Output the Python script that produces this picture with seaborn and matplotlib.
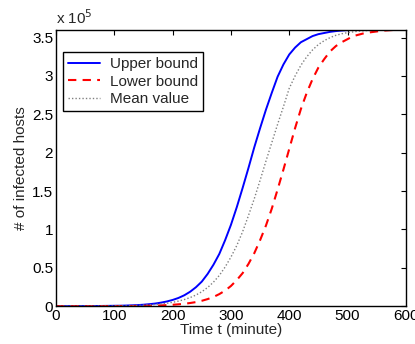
import matplotlib
matplotlib.use('Agg')
import matplotlib.pyplot as plt
import pandas as pd
import seaborn as sns

# Time axis (minutes) and infected host counts, in units of 1e5 hosts
time_min = list(range(0, 610, 10))

upper_bound = [
    0.000, 0.000, 0.000, 0.001, 0.001, 0.001, 0.001, 0.002, 0.003, 0.004,
    0.005, 0.006, 0.008, 0.011, 0.014, 0.019, 0.026, 0.034, 0.046, 0.061,
    0.081, 0.107, 0.142, 0.188, 0.247, 0.320, 0.420, 0.540, 0.680, 0.860,
    1.060, 1.290, 1.540, 1.800, 2.070, 2.320, 2.560, 2.780, 2.990, 3.150,
    3.280, 3.370, 3.440, 3.480, 3.520, 3.545, 3.560, 3.575, 3.585, 3.592,
    3.597, 3.600, 3.600, 3.600, 3.600, 3.600, 3.600, 3.600, 3.600, 3.600,
    3.600,
]

lower_bound = [
    0.000, 0.000, 0.000, 0.000, 0.000, 0.000, 0.000, 0.000, 0.000, 0.001,
    0.001, 0.001, 0.002, 0.002, 0.003, 0.0045, 0.006, 0.008, 0.010, 0.0135,
    0.018, 0.024, 0.031, 0.041, 0.053, 0.070, 0.092, 0.120, 0.157, 0.203,
    0.263, 0.340, 0.430, 0.550, 0.690, 0.860, 1.050, 1.270, 1.520, 1.780,
    2.050, 2.320, 2.570, 2.780, 2.960, 3.110, 3.220, 3.320, 3.390, 3.440,
    3.480, 3.520, 3.540, 3.560, 3.570, 3.580, 3.590, 3.595, 3.600, 3.600,
    3.600,
]

mean_value = [
    0.000, 0.000, 0.000, 0.000, 0.000, 0.000, 0.001, 0.001, 0.001, 0.002,
    0.003, 0.004, 0.005, 0.007, 0.010, 0.013, 0.017, 0.0225, 0.0295, 0.038,
    0.050, 0.066, 0.086, 0.112, 0.145, 0.188, 0.243, 0.313, 0.400, 0.510,
    0.640, 0.790, 0.970, 1.180, 1.400, 1.640, 1.890, 2.130, 2.370, 2.600,
    2.840, 3.000, 3.140, 3.250, 3.340, 3.410, 3.460, 3.500, 3.530, 3.550,
    3.565, 3.575, 3.585, 3.590, 3.595, 3.600, 3.600, 3.600, 3.600, 3.600,
    3.600,
]

x_ticks = [0, 100, 200, 300, 400, 500, 600]
y_ticks = [0, 0.5, 1, 1.5, 2, 2.5, 3, 3.5]
y_tick_labels = ['0', '0.5', '1', '1.5', '2', '2.5', '3', '3.5']

df = pd.DataFrame({
    'time': time_min,
    'upper': upper_bound,
    'lower': lower_bound,
    'mean': mean_value,
})

sns.set_style('white')
plt.rcParams['font.family'] = ['Liberation Sans', 'DejaVu Sans']
fs = 11

fig = plt.figure(figsize=(4.15, 3.44), dpi=100)
ax = fig.add_axes([0.135, 0.11, 0.843, 0.803])

# Draw the three curves
sns.lineplot(data=df, x='time', y='upper', ax=ax, color='#0000ff',
             linewidth=1.4, label='Upper bound')
sns.lineplot(data=df, x='time', y='lower', ax=ax, color='#ff0000',
             linewidth=1.5, linestyle=(0, (4, 3)), label='Lower bound')
sns.lineplot(data=df, x='time', y='mean', ax=ax, color='#808080',
             linewidth=1.0, linestyle=(0, (1, 1.5)), label='Mean value')

# Axes limits, ticks and labels
ax.set_xlim(0, 600)
ax.set_ylim(0, 3.6)
ax.set_xticks(x_ticks)
ax.set_yticks(y_ticks)
ax.set_yticklabels(y_tick_labels)
ax.tick_params(direction='in', top=True, right=True, length=3.5,
               width=0.8, labelsize=fs, pad=2, colors='black')
for spine in ax.spines.values():
    spine.set_visible(True)
    spine.set_color('black')
    spine.set_linewidth(1.0)

ax.set_xlabel('Time t (minute)', fontsize=fs, labelpad=0)
ax.set_ylabel('# of infected hosts', fontsize=fs, labelpad=3)
ax.text(0.0, 1.01, r'x 10$^{5}$', transform=ax.transAxes,
        fontsize=fs, ha='left', va='bottom')

# Legend box like the original
leg = ax.legend(loc='upper left', bbox_to_anchor=(0.02, 0.92),
                frameon=True, fancybox=False, framealpha=1,
                edgecolor='black', fontsize=fs, handlelength=2.1,
                handletextpad=0.6, labelspacing=0.22, borderpad=0.35,
                borderaxespad=0)
leg.get_frame().set_linewidth(1.0)

fig.savefig('out.png', dpi=100)
